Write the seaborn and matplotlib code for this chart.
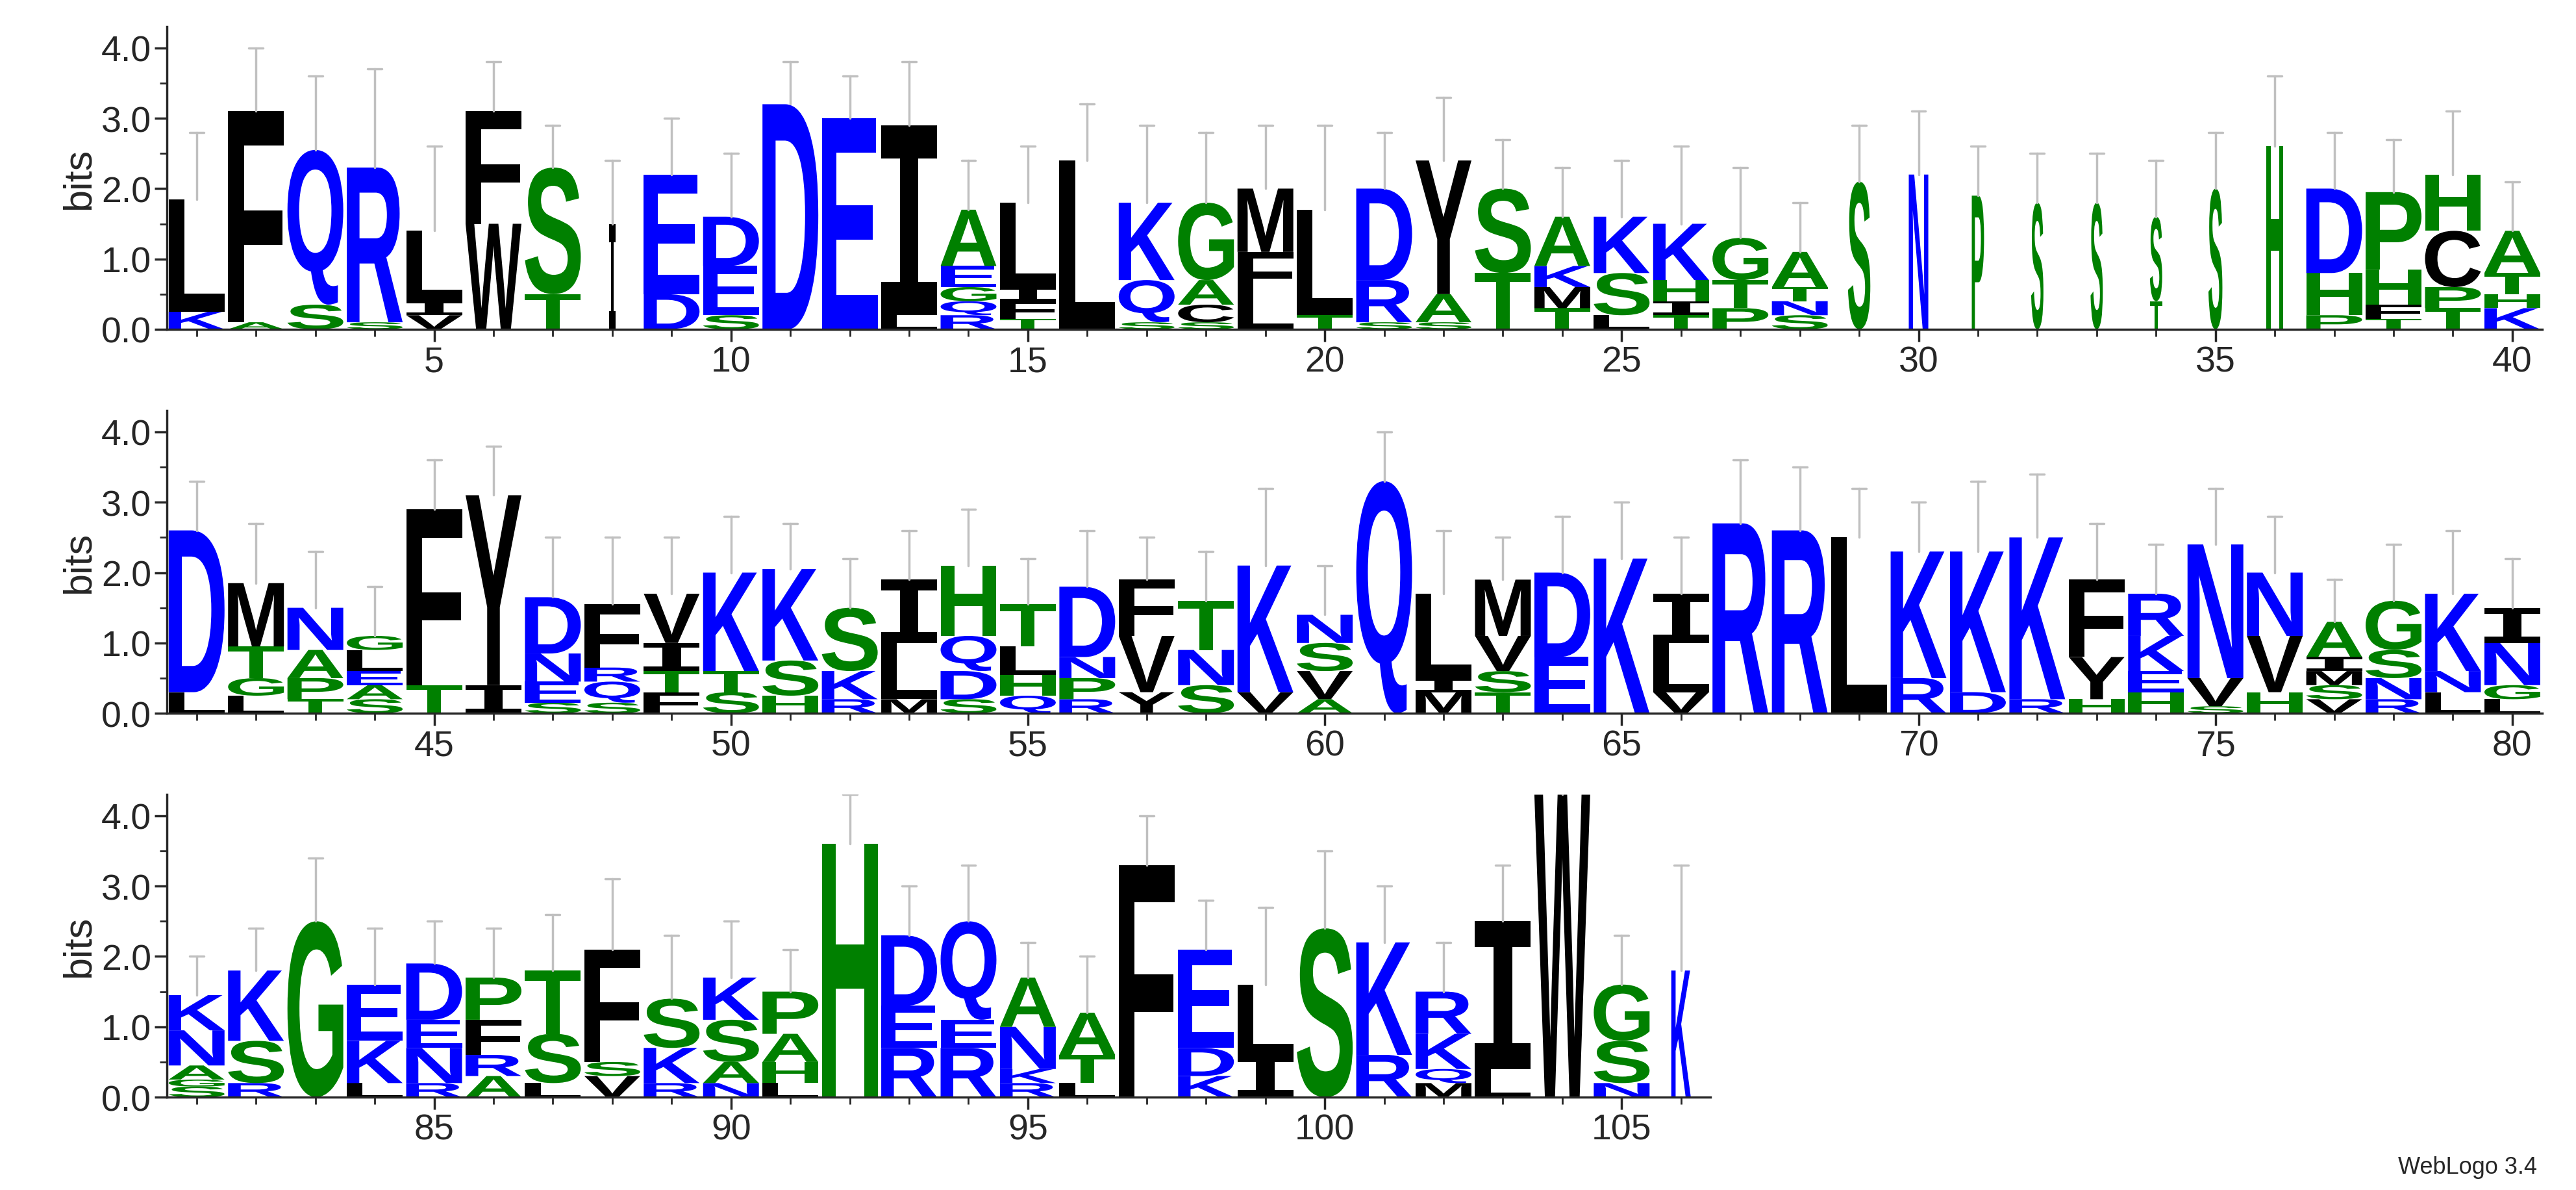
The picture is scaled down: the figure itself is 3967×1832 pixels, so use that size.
import matplotlib
matplotlib.use("Agg")
import matplotlib.pyplot as plt
import seaborn as sns
from matplotlib.textpath import TextPath
from matplotlib.font_manager import FontProperties
from matplotlib.patches import PathPatch
from matplotlib.transforms import Affine2D
from matplotlib.ticker import MultipleLocator

sns.set_style("ticks")
plt.rcParams['font.family'] = ['Liberation Sans', 'DejaVu Sans']

# stacks bottom->top: "Letter height"
stacks = [
 "K0.25 L1.6", "A0.1 F3.0", "S0.35 Q2.2", "S0.1 R2.2", "V0.2 I0.2 L1.0",
 "W1.5 F1.6", "T0.5 S1.8", "I1.5", "D0.5 E1.7", "S0.2 E0.7 D0.7",
 "D3.2", "E3.0", "L0.2 I2.7", "R0.2 Q0.2 G0.2 E0.3 A0.8", "T0.15 F0.25 I0.2 L1.2",
 "L2.4", "S0.1 Q0.6 K1.1", "S0.1 C0.25 A0.35 G1.1", "L0.5 F0.6 M0.9", "T0.2 L1.5",
 "S0.1 R0.6 D1.3", "S0.1 A0.4 Y1.9", "T0.8 S1.2", "T0.3 M0.3 K0.3 A0.7", "L0.2 S0.6 K0.8",
 "T0.2 I0.2 H0.3 K0.8", "P0.3 T0.4 G0.6", "S0.2 N0.2 T0.2 A0.5", "S2.1", "N2.2",
 "P1.9", "S1.8", "S1.8", "T0.4 S1.2", "S2.0",
 "H2.6", "P0.2 H0.6 D1.2", "T0.15 F0.2 H0.5 P1.1", "T0.3 P0.3 C0.8 H0.8", "K0.3 H0.2 T0.3 A0.6",
 "L0.3 D2.3", "L0.25 G0.25 T0.45 M0.9", "T0.2 P0.3 A0.4 N0.6", "S0.2 A0.2 E0.2 L0.3 G0.2", "T0.4 F2.5",
 "I0.4 Y2.7", "S0.15 E0.3 N0.4 D0.8", "S0.15 Q0.3 R0.2 F0.9", "F0.3 T0.3 I0.4 V0.7", "S0.3 T0.3 K1.4",
 "H0.25 S0.5 K1.3", "R0.2 K0.4 S0.9", "M0.2 L0.8 I0.9", "S0.2 D0.4 Q0.5 H1.0", "Q0.25 H0.3 L0.4 T0.6",
 "R0.2 P0.3 N0.3 D1.0", "Y0.3 V0.8 F0.8", "S0.4 N0.5 T0.7", "V0.3 K1.8", "A0.2 V0.4 S0.4 N0.4",
 "Q3.3", "M0.3 I0.2 L1.2", "T0.3 S0.3 V0.5 M0.8", "E0.8 D1.2", "K2.2",
 "V0.3 L0.7 I0.7", "R2.7", "R2.6", "L2.5", "R0.5 K1.8",
 "D0.3 K2.0", "R0.2 K2.3", "H0.2 Y0.6 F1.1", "H0.3 E0.3 K0.5 R0.6", "S0.1 V0.4 N1.9",
 "H0.3 V0.8 N0.9", "V0.2 S0.2 M0.2 I0.2 A0.5", "R0.2 N0.3 S0.4 G0.7", "L0.3 N0.3 K1.1", "L0.2 G0.2 N0.6 I0.5",
 "S0.15 G0.1 A0.2 N0.5 K0.5", "R0.2 S0.6 K1.0", "G2.5", "L0.2 K0.6 E0.8", "R0.2 N0.5 E0.4 D0.8",
 "A0.3 R0.3 F0.5 P0.6", "L0.2 S0.7 T0.9", "V0.3 S0.2 F1.6", "R0.2 K0.5 S0.7", "N0.2 A0.3 S0.6 K0.6",
 "L0.2 H0.3 A0.4 P0.6", "H3.6", "R0.7 E0.6 D1.0", "R0.7 E0.4 Q1.4", "R0.2 K0.2 N0.6 A0.7",
 "L0.2 T0.4 A0.6", "F3.3", "K0.3 D0.4 E1.4", "I0.6 L1.0", "S2.4",
 "R0.6 K1.6", "M0.2 Q0.2 K0.5 R0.6", "L0.4 I2.1", "W4.3", "N0.2 S0.6 G0.8",
 "K1.8",
]
err_tops = [2.8, 4.0, 3.6, 3.7, 2.6, 3.8, 2.9, 2.4, 3.0, 2.5,
            3.8, 3.6, 3.8, 2.4, 2.6, 3.2, 2.9, 2.8, 2.9, 2.9,
            2.8, 3.3, 2.7, 2.3, 2.4, 2.6, 2.3, 1.8, 2.9, 3.1,
            2.6, 2.5, 2.5, 2.4, 2.8, 3.6, 2.8, 2.7, 3.1, 2.1,
            3.3, 2.7, 2.3, 1.8, 3.6, 3.8, 2.5, 2.5, 2.5, 2.8,
            2.7, 2.2, 2.6, 2.9, 2.2, 2.6, 2.5, 2.3, 3.2, 2.1,
            4.0, 2.6, 2.5, 2.8, 3.0, 2.5, 3.6, 3.5, 3.2, 3.0,
            3.3, 3.4, 2.7, 2.4, 3.2, 2.8, 1.9, 2.4, 2.6, 2.2,
            2.0, 2.4, 3.4, 2.4, 2.5, 2.4, 2.6, 3.1, 2.3, 2.5,
            2.1, 4.3, 3.0, 3.3, 2.2, 2.0, 4.0, 2.8, 2.7, 3.5,
            3.0, 2.2, 3.3, 4.6, 2.3, 3.3]
col_widths = [1.0]*106
for p, w in {8: 0.12, 29: 0.4, 30: 0.35, 31: 0.22, 32: 0.22, 33: 0.22, 34: 0.22,
             35: 0.25, 36: 0.3, 106: 0.35}.items():
    col_widths[p-1] = w

blue, green, black = "#0000ff", "#008000", "#000000"
colors = {c: blue for c in "RKDENQ"}
colors.update({c: green for c in "SGHTAP"})
colors.update({c: black for c in "YVMCLFIW"})

fp = FontProperties(family="Liberation Sans", weight="bold")
fp_i = FontProperties(family="DejaVu Sans Mono", weight="bold")
glyph_cache = {}
def glyph(ch):
    if ch not in glyph_cache:
        tp = TextPath((0, 0), ch, size=1, prop=fp_i if ch == "I" else fp)
        glyph_cache[ch] = (tp, tp.get_extents())
    return glyph_cache[ch]

W, H = 3967, 1833
fig = plt.figure(figsize=(W/100, H/100), dpi=100)
left, fullw = 0.0648, 0.922
bottoms = [0.7229, 0.4004, 0.078]
axh = 0.254
rows = [(1, 40), (41, 80), (81, 106)]
fs = 40
for (a, b), bot in zip(rows, bottoms):
    n = b - a + 1
    ax = fig.add_axes([left, bot, fullw*n/40, axh])
    ax.set_xlim(a-0.5, b+0.5)
    ax.set_ylim(0, 4.3)
    for pos in range(a, b+1):
        i = pos - 1
        w = 0.94*col_widths[i]
        y = 0.0
        for tok in stacks[i].split():
            ch, h = tok[0], float(tok[1:])
            tp, ext = glyph(ch)
            tr = (Affine2D().translate(-ext.x0, -ext.y0)
                  .scale(w/ext.width, h/ext.height)
                  .translate(pos - w/2, y))
            ax.add_patch(PathPatch(tp, transform=tr + ax.transData,
                                   facecolor=colors[ch], edgecolor="none", zorder=2))
            y += h
        et = err_tops[i]
        ax.plot([pos, pos], [y, et], color="#c0c0c0", lw=2.5, zorder=3)
        ax.plot([pos-0.12, pos+0.12], [et, et], color="#c0c0c0", lw=2.5, zorder=3)
    ax.set_xticks(range((a//5+1)*5 if a % 5 else a, b+1, 5))
    ax.xaxis.set_minor_locator(MultipleLocator(1))
    ax.set_yticks([0, 1, 2, 3, 4])
    ax.set_yticklabels(["0.0", "1.0", "2.0", "3.0", "4.0"])
    ax.yaxis.set_minor_locator(MultipleLocator(0.5))
    ax.tick_params(labelsize=fs, width=2.5, length=14, direction="out")
    ax.tick_params(which="minor", width=2, length=8)
    ax.set_ylabel("bits", fontsize=fs+4)
    sns.despine(ax=ax)
    for s in ("left", "bottom"):
        ax.spines[s].set_linewidth(2.5)

fig.text(0.985, 0.01, "WebLogo 3.4", ha="right", va="bottom", fontsize=26)
fig.savefig("out.png", dpi=100)
